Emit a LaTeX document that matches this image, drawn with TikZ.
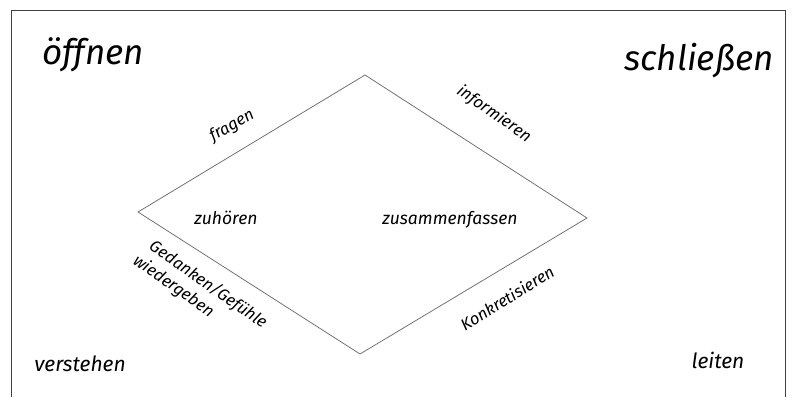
\documentclass[tikz,border=0pt]{standalone}
\usepackage{fontspec}
\setmainfont{Fira Sans}

\begin{document}
\begin{tikzpicture}[
  x=1pt, y=-1pt,
  every node/.style={inner sep=0pt, outer sep=0pt},
  pole/.style={font=\fontsize{35}{40}\selectfont\itshape},
  corner/.style={font=\fontsize{21}{24}\selectfont\itshape},
  inside/.style={font=\fontsize{17.5}{20}\selectfont\itshape},
  sidelabel/.style={font=\fontsize{16.5}{21}\selectfont\itshape, align=left},
  rhomb/.style={draw=black!55, line width=0.8pt},
  frame/.style={draw=black!75, line width=1pt}
]
  \useasboundingbox (0,0) rectangle (795,397);

  % frame, open at the bottom
  \coordinate (fbl) at (11,397);
  \coordinate (ftl) at (11,10);
  \coordinate (ftr) at (785,10);
  \coordinate (fbr) at (785,397);
  \draw [frame] (fbl) -- (ftl) -- (ftr) -- (fbr);

  % the rhomb
  \coordinate (top) at (365,75);
  \coordinate (right) at (587,218);
  \coordinate (bottom) at (360,354);
  \coordinate (left) at (138,212);
  \draw [rhomb] (top) -- (right) -- (bottom) -- (left) -- cycle;

  \node (open) [pole] at (93,55) {öffnen};
  \node (close) [pole] at (699,61) {schließen};
  \node (understand) [corner] at (80,364) {verstehen};
  \node (lead) [corner] at (718,360) {leiten};

  \node (listen) [inside] at (226,218) {zuhören};
  \node (summarize) [inside] at (450,220) {zusammenfassen};

  \node (ask) [sidelabel, rotate=29] at (232,126) {fragen};
  \node (inform) [sidelabel, rotate=-35] at (494,114) {informieren};
  \node (mirror) [sidelabel, rotate=-35] at (200,292) {\hspace{5pt}Gedanken/Gefühle\\wiedergeben};
  \node (concrete) [sidelabel, rotate=32] at (507,298) {Konkretisieren};
\end{tikzpicture}
\end{document}
